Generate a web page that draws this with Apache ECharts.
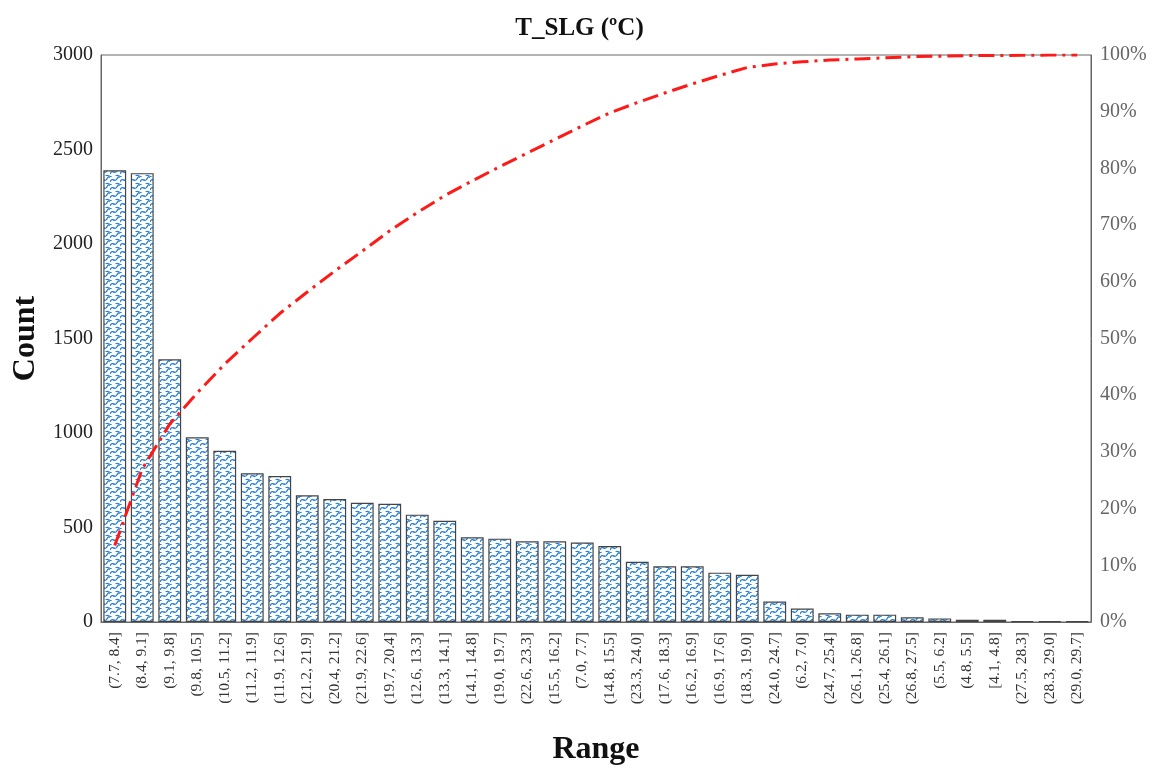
<!DOCTYPE html>
<html>
<head>
<meta charset="utf-8">
<script src="https://cdn.jsdelivr.net/npm/echarts@6/dist/echarts.min.js"></script>
<style>html,body{margin:0;padding:0;background:#fff}#c{width:1159px;height:774px}</style>
</head>
<body>
<div id="c"></div>
<script>
const categories = ["(7.7, 8.4]","(8.4, 9.1]","(9.1, 9.8]","(9.8, 10.5]","(10.5, 11.2]","(11.2, 11.9]","(11.9, 12.6]","(21.2, 21.9]","(20.4, 21.2]","(21.9, 22.6]","(19.7, 20.4]","(12.6, 13.3]","(13.3, 14.1]","(14.1, 14.8]","(19.0, 19.7]","(22.6, 23.3]","(15.5, 16.2]","(7.0, 7.7]","(14.8, 15.5]","(23.3, 24.0]","(17.6, 18.3]","(16.2, 16.9]","(16.9, 17.6]","(18.3, 19.0]","(24.0, 24.7]","(6.2, 7.0]","(24.7, 25.4]","(26.1, 26.8]","(25.4, 26.1]","(26.8, 27.5]","(5.5, 6.2]","(4.8, 5.5]","[4.1, 4.8]","(27.5, 28.3]","(28.3, 29.0]","(29.0, 29.7]"];
const counts = [2390,2375,1390,977,906,787,772,670,651,631,626,568,536,448,441,427,427,420,402,319,295,295,261,250,108,71,46,39,39,25,19,12,12,5,4,3];
const cumulativePct = [13.5,27.0,34.9,40.4,45.5,50.0,54.4,58.2,61.9,65.4,69.0,72.2,75.2,77.8,80.3,82.7,85.1,87.5,89.8,91.6,93.3,94.9,96.4,97.8,98.4,98.8,99.1,99.3,99.5,99.7,99.8,99.9,99.9,99.96,99.98,100];
const countTicks = [0,500,1000,1500,2000,2500,3000];
const pctTicks = [0,10,20,30,40,50,60,70,80,90,100];

// wave pattern fill
const pc = document.createElement('canvas');
pc.width = 10; pc.height = 8;
const g = pc.getContext('2d');
g.fillStyle = '#ffffff'; g.fillRect(0,0,10,8);
g.strokeStyle = '#2a82d6'; g.lineWidth = 1.4;
g.beginPath();
g.moveTo(0,6); g.bezierCurveTo(2.5,0,5,8,7.5,2); g.bezierCurveTo(8.5,0,9.5,1,10,1.5);
g.moveTo(-5,1.5); g.bezierCurveTo(-2.5,-4,0,4,2.5,-2);
g.moveTo(5,9.5); g.bezierCurveTo(7.5,4,10,12,12.5,6);
g.stroke();

const serif = '"Liberation Serif", "DejaVu Serif", serif';
const chart = echarts.init(document.getElementById('c'));
chart.setOption({
  animation: false,
  title: {
    text: 'T_SLG (ºC)', left: 'center', top: 11,
    textStyle: {fontFamily: serif, fontSize: 25, fontWeight: 'bold', color: '#111'}
  },
  grid: {left: 101, right: 68, top: 55, bottom: 152, outerBoundsMode: 'none', containLabel: false,
    show: true, borderColor: '#666', borderWidth: 1, backgroundColor: 'transparent'},
  xAxis: {
    type: 'category', data: categories,
    name: 'Range', nameLocation: 'middle', nameGap: 112,
    nameTextStyle: {fontFamily: serif, fontSize: 32, fontWeight: 'bold', color: '#111'},
    axisLine: {lineStyle: {color: '#666'}},
    axisTick: {show: false},
    axisLabel: {rotate: 90, interval: 0, fontFamily: serif, fontSize: 15.5, color: '#333', margin: 10}
  },
  yAxis: [{
    type: 'value', min: 0, max: 3000, interval: 500,
    name: 'Count', nameLocation: 'middle', nameGap: 58, nameRotate: 90,
    nameTextStyle: {fontFamily: serif, fontSize: 32, fontWeight: 'bold', color: '#111'},
    axisLine: {show: true, lineStyle: {color: '#666'}},
    axisTick: {show: false},
    splitLine: {show: false},
    axisLabel: {fontFamily: serif, fontSize: 20, color: '#222', margin: 8,
      formatter: v => countTicks.includes(v) ? String(v) : ''}
  }, {
    type: 'value', min: 0, max: 100, interval: 10,
    axisLine: {show: true, lineStyle: {color: '#666'}},
    axisTick: {show: false},
    splitLine: {show: false},
    axisLabel: {fontFamily: serif, fontSize: 20, color: '#666', margin: 9,
      formatter: v => pctTicks.includes(v) ? v + '%' : ''}
  }],
  series: [{
    type: 'bar', data: counts, barCategoryGap: '17%',
    itemStyle: {color: {image: pc, repeat: 'repeat'}, borderColor: '#444', borderWidth: 1.2}
  }, {
    type: 'line', yAxisIndex: 1, data: cumulativePct, symbol: 'none', smooth: false,
    lineStyle: {color: '#ff1a1a', width: 3, type: [16, 6, 3, 6]},
    z: 5
  }]
});
</script>
</body>
</html>
